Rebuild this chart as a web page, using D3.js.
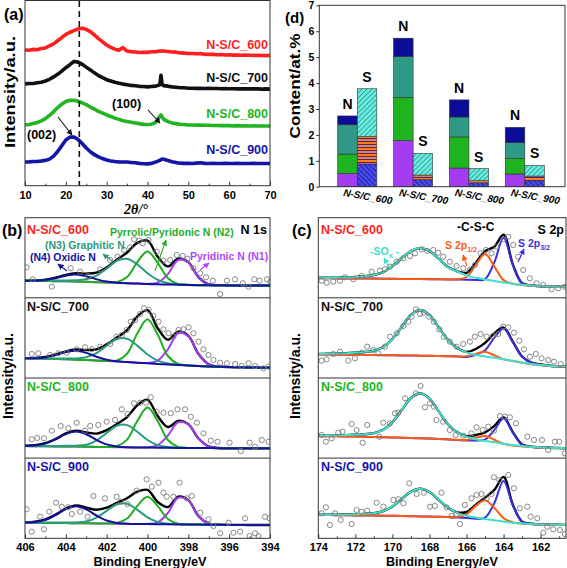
<!DOCTYPE html>
<html><head><meta charset="utf-8">
<script src="https://cdn.jsdelivr.net/npm/d3@7/dist/d3.min.js"></script>
<style>html,body{margin:0;padding:0;background:#fff;}svg{display:block;}</style>
</head><body><svg id="chart" width="567" height="568"></svg>
<script>
// ================= DATA =================
// (a) XRD
const xrdTheta = [10,11,12,13,14,15,16,17,18,19,20,21,22,23,24,25,26,27,28,29,30,31,32,33,34,35,36,37,38,39,40,41,42,43,43.3,43.6,44,45,46,47,48,49,50,51,52,53,54,55,56,57,58,59,60,61,62,63,64,65,66,67,68,69,70];
const xrd600 = [73.5,73.3,73.8,73.6,74.3,74.6,75.7,76.8,78.5,80.2,81.9,83.1,84.0,84.9,85.3,84.6,83.4,81.6,79.6,77.9,76.2,74.9,73.9,73.4,74.8,72.9,72.6,72.4,72.1,72.2,72.2,72.5,72.6,72.9,72.8,73.0,72.9,72.7,72.4,72.3,71.9,71.8,71.6,71.6,71.4,71.5,71.2,71.1,71.1,70.9,71.0,70.8,70.9,70.7,70.8,70.6,70.7,70.6,70.5,70.6,70.5,70.4,70.5];
const xrd700 = [55.1,55.3,55.3,55.7,56.0,56.7,57.6,58.9,60.3,62.0,63.9,65.5,67.3,66.9,65.7,64.2,62.7,61.1,59.6,58.5,57.4,56.7,56.0,55.5,55.0,54.7,54.3,54.1,53.8,53.7,53.5,53.7,53.9,54.6,59.8,54.7,54.2,53.9,53.5,53.3,53.0,53.0,52.8,52.8,52.7,52.8,52.6,52.7,52.6,52.6,52.5,52.6,52.5,52.5,52.4,52.5,52.4,52.5,52.4,52.4,52.3,52.4,52.3];
const xrd800 = [32.9,33.1,33.7,34.2,35.1,36.3,38.1,40.0,42.3,44.1,45.6,46.3,46.2,45.7,44.8,43.9,42.6,41.5,40.2,39.3,38.3,37.5,36.6,35.9,35.2,34.8,34.3,33.9,33.6,33.2,33.1,33.3,34.2,37.6,38.3,37.2,35.9,34.7,34.0,33.6,33.2,33.1,32.9,32.9,32.8,32.8,32.7,32.7,32.6,32.6,32.5,32.6,32.5,32.4,32.5,32.4,32.4,32.3,32.4,32.3,32.3,32.3,32.3];
const xrd900 = [12.8,12.9,13.1,13.1,13.4,13.7,14.4,16.0,18.5,21.6,24.7,26.3,26.4,25.0,22.8,20.4,18.4,16.8,15.6,14.7,13.9,13.4,13.1,12.9,12.8,12.8,12.6,12.4,12.1,11.9,11.8,12.1,12.8,13.7,14.1,14.4,14.3,13.6,13.0,12.5,12.2,12.1,12.1,12.0,12.2,12.4,12.1,12.0,12.1,12.0,12.0,12.1,12.0,12.0,12.1,12.0,12.0,12.0,12.1,12.0,12.0,12.0,12.0];
const xrdRefTheta = 23.3;
const xrdTicks = [10,20,30,40,50,60,70];
const xrdMinor = [15,25,35,45,55,65];
const sampleNames = ["N-S/C_600","N-S/C_700","N-S/C_800","N-S/C_900"];

// (d) contents, at.%
const nN1 = [0.51,1.78,0.72,0.49];
const nN2 = [0.75,1.67,1.20,0.60];
const nN3 = [1.13,1.57,0.77,0.61];
const nN4 = [0.34,0.71,0.66,0.59];
const sP32 = [0.875,0.28,0.15,0.23];
const sP12 = [1.055,0.17,0.08,0.18];
const sSOx = [1.85,0.84,0.47,0.41];
const dTicks = [0,1,2,3,4,5,6,7];

// (b) N 1s, binding energy grid (eV) and fitted components
const bGrid = [406,405.5,405,404.5,404,403.5,403,402.5,402,401.5,401,400.5,400,399.5,399,398.5,398,397.5,397,396.5,396,395.5,395,394.5,394];
const bTicks = [406,404,402,400,398,396,394];
const bMinor = [405,403,401,399,397,395];
const bgN600 = [17,16.9,16.8,16.6,16.5,16.3,16,15.6,15.2,14.9,14.5,14.2,13.8,13.5,13.2,13,12.8,12.6,12.5,12.45,12.4,12.35,12.3,12.3,12.3];
const n4_600 = [0,0.2,1.0,3.0,5.6,7,5.6,3.0,1.0,0.2,0,0,0,0,0,0,0,0,0,0,0,0,0,0,0];
const n3_600 = [0.2,0.3,0.4,0.6,0.8,1.2,2.6,6.6,14,22.1,24.5,19.2,10.7,4.4,1.4,0.6,0.3,0.1,0,0,0,0,0,0,0];
const n2_600 = [0,0,0,0,0,0,0,0,0.1,0.8,6.3,21.5,32.5,21.5,6.3,0.8,0.1,0,0,0,0,0,0,0,0];
const n1_600 = [0,0,0,0,0,0,0,0,0,0,0,0,0.1,1.7,10.5,24.8,22.5,7.8,1.0,0.1,0,0,0,0,0];
const bgN700 = [19.7,19.5,19.3,19,18.7,18.3,17.9,17.4,16.9,16.4,15.9,15.3,14.7,14.1,13.5,13,12.5,12,11.6,11.2,10.9,10.7,10.5,10.4,10.3];
const n4_700 = [0,0.3,1.3,3.9,7.2,9,7.2,3.9,1.3,0.3,0,0,0,0,0,0,0,0,0,0,0,0,0,0,0];
const n3_700 = [0.2,0.3,0.4,0.6,0.8,1.2,2.9,7.4,15.4,22.6,23.4,17.1,8.8,3.3,1.0,0.5,0.3,0.1,0,0,0,0,0,0,0];
const n2_700 = [0,0,0,0,0,0,0,0,0.1,1.1,8.5,29.1,44,29.1,8.5,1.1,0.1,0,0,0,0,0,0,0,0];
const n1_700 = [0,0,0,0,0,0,0,0,0,0,0,0,0.3,3.2,15.2,31.8,29.3,11.9,2.1,0.2,0,0,0,0,0];
const bgN800 = [12,11.9,11.8,11.7,11.6,11.5,11.4,11.2,11,10.9,10.7,10.6,10.5,10.4,10.3,10.2,10.1,10,10,9.9,9.9,9.8,9.8,9.8,9.8];
const n4_800 = [0.1,0.7,2.7,7,12.4,15,12.4,7,2.7,0.7,0.1,0,0,0,0,0,0,0,0,0,0,0,0,0,0];
const n3_800 = [0.2,0.3,0.4,0.5,0.7,0.9,1.9,6.3,14.1,21.5,22.3,15.8,7.6,2.5,0.7,0.3,0.1,0,0,0,0,0,0,0,0];
const n2_800 = [0,0,0,0,0,0,0,0,0.1,1.0,7.8,26.5,40,26.5,7.8,1.0,0.1,0,0,0,0,0,0,0,0];
const n1_800 = [0,0,0,0,0,0,0,0,0,0,0,0,0.2,2.6,12.3,25.7,23.7,9.6,1.7,0.2,0,0,0,0,0];
const bgN900 = [15.6,15.5,15.4,15.3,15.2,15.1,15,14.9,14.7,14.6,14.5,14.3,14.2,14.1,14,13.9,13.8,13.7,13.6,13.5,13.4,13.4,13.3,13.3,13.3];
const n4_900 = [0.1,0.8,3.1,7.9,14,17,14,7.9,3.1,0.8,0.1,0,0,0,0,0,0,0,0,0,0,0,0,0,0];
const n3_900 = [0.2,0.3,0.4,0.5,0.6,0.8,1.7,5.7,12.7,19.4,20.1,14.2,6.8,2.3,0.6,0.3,0.1,0,0,0,0,0,0,0,0];
const n2_900 = [0,0,0,0,0,0,0,0,0.1,0.7,5.3,18.1,27.3,18.1,5.3,0.7,0.1,0,0,0,0,0,0,0,0];
const n1_900 = [0,0,0,0,0,0,0,0,0,0,0,0,0.1,1.8,11.3,26.7,24.2,8.4,1.1,0.1,0,0,0,0,0];
const ptsN600 = [[405.92,30.5],[405.62,18.5],[404.69,11.1],[403.76,29.5],[403.30,26.1],[402.90,21.8],[402.32,28.5],[401.83,37.8],[401.47,41.1],[401.15,47.8],[400.85,50.5],[400.66,58.5],[400.40,57.1],[400.23,54.5],[399.95,57.8],[399.55,46.1],[399.22,37.1],[398.89,37.8],[398.57,42.8],[398.27,41.8],[398.04,39.1],[397.75,29.5],[397.42,24.5],[397.13,20.5],[396.80,17.1],[396.44,3.8],[396.11,17.1],[395.71,18.5],[395.33,14.5],[395.05,11.1],[394.77,18.5],[394.51,17.1],[394.15,18.5],[393.98,16.1]];
const ptsN700 = [[405.67,24],[405.35,24.7],[404.77,23],[404.37,24.7],[403.96,25.3],[403.47,28.7],[403.06,30.7],[402.73,28.7],[402.32,31.3],[401.83,34],[401.51,41.3],[401.26,43],[401.02,48],[400.82,56.3],[400.61,58],[400.36,64],[400.17,69.7],[399.95,68],[399.71,62],[399.46,56.3],[399.22,48.7],[398.97,44.7],[398.73,41.3],[398.48,48],[398.24,48.7],[397.99,50.7],[397.75,44.7],[397.50,36.3],[397.26,28.7],[397.01,23],[396.77,18],[396.44,15.3],[396.11,14.7],[395.71,14],[395.38,12],[395.05,14.7],[394.73,12],[394.32,9.7],[394.07,11.3]];
const ptsN800 = [[405.67,18.8],[405.40,20.1],[405.07,19.8],[404.69,27.4],[404.25,32.1],[403.88,29.8],[403.47,35.4],[403.06,27.4],[402.81,32.1],[402.41,33.1],[402.0,36.4],[401.59,38.1],[401.26,48.8],[400.98,44.1],[400.66,54.8],[400.36,55.4],[400.07,55.4],[399.84,60.8],[399.55,46.4],[399.22,45.4],[398.86,44.8],[398.53,48.8],[398.16,48.8],[397.88,41.4],[397.58,35.4],[397.26,24.8],[396.90,17.4],[396.57,16.4],[395.98,15.4],[395.43,7.1],[395.00,15.4],[394.73,11.4],[394.40,18.1],[394.07,16.4]];
const ptsN900 = [[405.92,29],[405.67,6.6],[405.26,21.6],[405.07,9],[404.81,26.6],[404.48,35.6],[404.20,31.6],[403.88,31],[403.71,24.3],[403.30,26.6],[402.94,21.6],[402.65,42.3],[402.08,40],[401.51,41.6],[401.31,36.6],[400.98,34.3],[400.53,47.6],[400.04,59],[399.79,51.6],[399.46,55.6],[399.22,45.6],[399.06,41.6],[398.73,41.6],[398.43,55.6],[398.07,40],[397.83,42.3],[397.42,25.6],[397.01,19],[396.77,12.3],[396.44,5],[396.03,15.6],[395.79,5.6],[395.46,6.6],[395.22,20],[395.00,2.3],[394.73,5],[394.56,2.3],[394.24,21.6],[394.02,20]];

// (c) S 2p
const cGrid = [174,173.5,173,172.5,172,171.5,171,170.5,170,169.5,169,168.5,168,167.5,167,166.5,166,165.5,165,164.5,164,163.5,163,162.5,162,161.5,161,160.5];
const cTicks = [174,172,170,168,166,164,162];
const cMinor = [173,171,169,167,165,163,161];
const bgS600 = [19.5,19.5,19.4,19.4,19.3,19.3,19.2,19.1,19,18.9,18.8,18.7,18.6,18.5,18.4,18.3,18.1,17.8,17.2,16.3,15,13.8,12.8,12,11.5,11.2,11,10.9];
const sox600 = [0.5,0.6,0.8,1.1,1.6,2.3,3.6,6.6,12.7,20.6,28,31,28,20.6,12.3,8.0,4.2,2.2,1.2,0.6,0.4,0.3,0.2,0.2,0.1,0.1,0.1,0.1];
const p12_600 = [0,0,0,0,0,0,0,0,0,0,0,0,0,0,0,0.2,2.7,15.1,26.7,15.1,2.7,0.2,0,0,0,0,0,0];
const p32_600 = [0,0,0,0,0,0,0,0,0,0,0,0,0,0,0,0,0,0,1.5,19.1,45,19.1,1.5,0.1,0,0,0,0];
const bgS700 = [23.5,23.4,23.3,23.2,23.1,23,22.9,22.8,22.7,22.6,22.5,22.3,22.2,22,21.8,21.5,21.1,20.7,20.2,19.3,18.2,16.8,15.2,13.8,12.8,12,11.6,11.3];
const sox700 = [0.6,0.8,1.1,1.5,2.2,3.0,4.5,8.2,16.3,28.5,40.6,45.7,40.6,28.5,16.3,8.5,4.4,2.4,1.4,0.9,0.6,0.4,0.3,0.2,0.2,0.2,0.2,0.2];
const p12_700 = [0,0,0,0,0,0,0,0,0,0,0,0,0,0,0,0.1,0.6,3.4,6,3.4,0.6,0.1,0,0,0,0,0,0];
const p32_700 = [0,0,0,0,0,0,0,0,0,0,0,0,0,0,0,0,0,2.5,7.5,21,31,19,6,1.5,0.5,0,0,0];
const bgS800 = [22,21.9,21.8,21.7,21.5,21.3,21.1,20.9,20.7,20.4,20.1,19.8,19.5,19.1,18.7,18.2,17.6,16.9,16,15,13.8,12.6,11.7,11,10.5,10.2,10,9.8];
const sox800 = [0.5,0.6,0.9,1.3,1.9,2.6,3.9,7.4,15.2,27.6,40,45,40,27.6,15.2,7.6,3.8,2.0,1.2,0.8,0.5,0.4,0.3,0.2,0.2,0.1,0.1,0.1];
const p12_800 = [0,0,0,0,0,0,0,0,0,0,0,0,0,0,0,0.1,0.6,3.4,6,3.4,0.6,0.1,0,0,0,0,0,0];
const p32_800 = [0,0,0,0,0,0,0,0,0,0,0,0,0,0,0,0,0,0.8,2.5,12.9,25.7,12.9,1.6,0.1,0,0,0,0];
const bgS900 = [23.3,23.2,23.1,23,22.9,22.8,22.7,22.6,22.5,22.3,22.1,21.9,21.7,21.5,21.2,20.8,20.3,19.6,18.7,17.6,16.4,15.4,14.6,14.1,13.8,13.6,13.4,13.3];
const sox900 = [0.3,0.4,0.6,0.8,1.2,1.6,2.4,4.6,9.4,17,24.6,27.7,24.6,17,9.4,4.7,2.3,1.2,0.7,0.5,0.3,0.2,0.1,0.1,0.1,0.1,0.1,0.1];
const p12_900 = [0,0,0,0,0,0,0,0,0,0,0,0,0,0,0,0.5,3.7,12.8,19.3,12.8,3.7,0.5,0,0,0,0,0,0];
const p32_900 = [0,0,0,0,0,0,0,0,0,0,0,0,0,0,0,0,0,0,2,17.5,41,17.5,2,0.3,0,0,0,0];
const ptsS600 = [[173.82,17.1],[173.55,15.1],[173.19,16.1],[172.83,17.1],[172.56,20.5],[172.11,18.5],[171.66,21.8],[171.12,26.1],[170.67,27.1],[170.40,28.5],[170.13,31.1],[169.77,36.1],[169.41,39.5],[169.05,41.8],[168.78,44.5],[168.42,48.5],[168.12,46.8],[167.79,47.8],[167.53,45.1],[167.26,41.1],[166.90,36.1],[166.54,31.8],[166.18,29.5],[165.82,27.8],[165.55,32.8],[165.24,44.5],[164.95,47.8],[164.65,44.5],[164.38,51.1],[164.02,58.5],[163.75,61.1],[163.48,52.8],[163.21,41.1],[162.94,27.8],[162.58,19.5],[162.22,14.5],[161.86,12.8],[161.41,8.5],[161.05,9.5],[160.69,11.1]];
const ptsS700 = [[173.82,17.3],[173.55,18.7],[173.19,24],[172.83,26.3],[172.38,17.3],[172.02,19.7],[171.66,25.3],[171.36,31.3],[171.03,28],[170.76,24.7],[170.40,31.3],[170.13,41.3],[169.77,44.7],[169.41,52],[169.14,56.3],[168.96,61.3],[168.73,68.7],[168.51,64],[168.30,65.3],[168.01,61.3],[167.76,56.3],[167.47,48.7],[167.22,41.3],[166.90,36.3],[166.54,31.3],[166.18,34],[165.82,36.3],[165.55,41.3],[165.24,44],[164.92,41.3],[164.59,42],[164.29,44],[164.02,51.3],[163.75,50.7],[163.44,45.3],[163.15,37.3],[162.90,28.7],[162.58,21.3],[162.26,24],[161.95,19.7],[161.59,18],[161.28,16.3],[160.92,14]];
const ptsS800 = [[173.82,23.1],[173.59,16.4],[173.28,19.8],[172.92,25.4],[172.69,26.4],[172.20,34.1],[171.93,28.1],[171.61,15.4],[171.36,33.1],[170.71,21.4],[170.49,35.4],[170.13,34.8],[169.86,44.8],[169.68,45.4],[169.32,59.8],[168.73,64.8],[168.48,72.1],[168.24,50.8],[167.97,54.8],[167.76,51.4],[167.62,38.1],[167.26,36.4],[166.90,28.1],[166.59,23.1],[166.18,22.4],[165.73,24.8],[165.46,30.8],[165.13,28.1],[164.83,31.4],[164.52,27.4],[164.20,42.1],[163.93,41.4],[163.66,40.8],[163.33,34.8],[162.72,21.4],[162.36,18.1],[161.93,18.1],[161.59,8.1],[161.23,16.4],[161.00,16.4],[160.69,4.8]];
const ptsS900 = [[173.82,25],[173.59,31],[173.37,13.3],[173.10,25],[172.79,18.3],[172.20,14.3],[171.93,28.3],[171.66,26.6],[171.36,27.6],[170.85,35.6],[170.49,31.6],[169.95,38.3],[169.68,39],[169.41,35],[169.09,55],[168.69,44.3],[168.30,45.6],[167.97,31.6],[167.71,32.3],[167.35,45.6],[167.08,31],[166.81,22.3],[166.54,24.3],[166.36,14.3],[166.09,33.3],[165.73,40],[165.46,43.3],[165.19,44.3],[164.92,40],[164.65,44.3],[164.52,61],[164.23,58.3],[163.75,63.3],[163.44,50],[163.12,30],[162.72,31.6],[162.54,21.6],[162.18,20],[161.86,5.6],[161.64,11.6],[161.32,9],[160.96,8.3],[160.69,4.3]];

// ================= DRAW =================
const svg = d3.select("#chart");
const FONT = '"Liberation Sans", Arial, Helvetica, sans-serif';
const defs = svg.append("defs");
const AX = "#333";

function addText(x, y, s, o = {}) {
  const t = svg.append("text").attr("x", x).attr("y", y)
    .attr("font-family", o.family || FONT).attr("font-size", o.size || 12)
    .attr("font-weight", o.weight || "bold").attr("font-style", o.style || "normal")
    .attr("fill", o.color || "#000").attr("text-anchor", o.anchor || "start");
  if (o.len) t.attr("textLength", o.len).attr("lengthAdjust", "spacingAndGlyphs");
  if (o.rot) t.attr("transform", `rotate(${o.rot},${x},${y})`);
  if (s !== null) t.text(s);
  return t;
}
let mk = 0;
function arrow(x1, y1, x2, y2, color, w = 1.1) {
  const id = "arr" + (mk++);
  defs.append("marker").attr("id", id).attr("viewBox", "0 0 10 10").attr("refX", 9).attr("refY", 5)
    .attr("markerWidth", 5.5).attr("markerHeight", 5.5).attr("orient", "auto")
    .append("path").attr("d", "M0,0L10,5L0,10z").attr("fill", color);
  svg.append("line").attr("x1", x1).attr("y1", y1).attr("x2", x2).attr("y2", y2)
    .attr("stroke", color).attr("stroke-width", w).attr("marker-end", `url(#${id})`);
}
function bottomAxis(scale, y, majors, minors, labelOffset, size) {
  const g = svg.append("g").attr("transform", `translate(0,${y})`);
  g.call(d3.axisBottom(scale).tickValues(majors).tickSize(-4).tickFormat(d3.format("d")));
  g.select(".domain").remove();
  g.selectAll(".tick line").attr("stroke", AX);
  g.selectAll(".tick text").attr("font-family", FONT).attr("font-weight", "bold")
    .attr("font-size", size).attr("fill", "#000").attr("y", labelOffset).attr("dy", 0);
  const g2 = svg.append("g").attr("transform", `translate(0,${y})`);
  g2.call(d3.axisBottom(scale).tickValues(minors).tickSize(-2).tickFormat(""));
  g2.select(".domain").remove();
  g2.selectAll(".tick line").attr("stroke", AX);
}

// ---------- (a) XRD ----------
const xa = d3.scaleLinear().domain([10, 70]).range([25, 270]);
const ya = d3.scaleLinear().domain([0, 100]).range([185.7, 1]);
defs.append("clipPath").attr("id", "clipA").append("rect").attr("x", 25).attr("y", 0).attr("width", 245).attr("height", 185.7);
const xrdSeries = [[xrd600, "#ff1f1f"], [xrd700, "#111111"], [xrd800, "#22b422"], [xrd900, "#1414a8"]];
const lineA = d3.line().x((d, i) => xa(xrdTheta[i])).y(d => ya(d));
const gA = svg.append("g").attr("clip-path", "url(#clipA)");
xrdSeries.forEach(([vals, col]) => {
  gA.append("path").datum(vals).attr("d", lineA).attr("fill", "none").attr("stroke", col)
    .attr("stroke-width", 3.6).attr("stroke-linejoin", "round");
});
svg.append("line").attr("x1", xa(xrdRefTheta)).attr("x2", xa(xrdRefTheta)).attr("y1", 1).attr("y2", 185.7)
  .attr("stroke", "#111").attr("stroke-width", 1.6).attr("stroke-dasharray", "6,4");
svg.append("rect").attr("x", 25).attr("y", 0.5).attr("width", 245).attr("height", 185.2)
  .attr("fill", "none").attr("stroke", AX).attr("stroke-width", 1);
bottomAxis(xa, 185.7, xrdTicks, xrdMinor, 13, 11);
addText(4, 20, "(a)", { size: 16 });
addText(15, 92, "Intensity/a.u.", { size: 15, anchor: "middle", rot: -90, len: 112 });
addText(136, 214, null, { size: 14, anchor: "middle", family: '"Liberation Serif", "Times New Roman", serif', style: "italic" })
  .text("2θ/°");
[["N-S/C_600", "#ff1f1f", 48.5], ["N-S/C_700", "#111111", 81.5], ["N-S/C_800", "#22b422", 117.5], ["N-S/C_900", "#1414a8", 153.5]]
  .forEach(([s, c, y]) => addText(268, y, s, { size: 12.5, color: c, anchor: "end" }));
addText(112, 108, "(100)", { size: 12.5 });
arrow(148, 110, 160, 123, "#111");
addText(27, 139, "(002)", { size: 12.5 });
arrow(58, 117, 72, 135, "#111");

// ---------- XPS panels ----------
const subTops = [217.7, 297.8, 378, 458.1];
const subBots = [297.8, 378, 458.1, 538.3];
function drawXps(xs, grid, x0, x1, sets, clipName) {
  sets.forEach((st, k) => {
    const ys = d3.scaleLinear().domain([0, subBots[k] - subTops[k]]).range([subBots[k], subTops[k]]);
    const cid = clipName + k;
    defs.append("clipPath").attr("id", cid).append("rect").attr("x", x0).attr("y", subTops[k]).attr("width", x1 - x0).attr("height", subBots[k] - subTops[k]);
    const g = svg.append("g").attr("clip-path", `url(#${cid})`);
    const ln = d3.line().x((d, i) => xs(grid[i])).y(d => ys(d)).curve(d3.curveCatmullRom.alpha(0.5));
    const env = grid.map((_, i) => st.bg[i] + d3.sum(st.comps, c => c.v[i]));
    g.append("path").datum(env).attr("d", ln).attr("fill", "none").attr("stroke", "#000").attr("stroke-width", 2.4);
    st.comps.forEach(c => {
      g.append("path").datum(grid.map((_, i) => st.bg[i] + c.v[i])).attr("d", ln)
        .attr("fill", "none").attr("stroke", c.col).attr("stroke-width", 2);
    });
    g.selectAll(null).data(st.pts).join("circle")
      .attr("cx", d => xs(d[0])).attr("cy", d => ys(d[1])).attr("r", 2.6)
      .attr("fill", "none").attr("stroke", "#7a7a7a").attr("stroke-width", 0.9);
  });
  svg.append("rect").attr("x", x0).attr("y", subTops[0]).attr("width", x1 - x0).attr("height", subBots[3] - subTops[0])
    .attr("fill", "none").attr("stroke", AX).attr("stroke-width", 1);
  for (let k = 1; k < 4; k++) svg.append("line").attr("x1", x0).attr("x2", x1).attr("y1", subTops[k]).attr("y2", subTops[k]).attr("stroke", AX);
}

// (b)
const cN1 = "#a43cf2", cN2 = "#1fae1f", cN3 = "#2a9a80", cN4 = "#12129c";
const xb = d3.scaleLinear().domain([406, 394]).range([25, 270]);
drawXps(xb, bGrid, 25, 270, [
  { bg: bgN600, comps: [{ v: n1_600, col: cN1 }, { v: n2_600, col: cN2 }, { v: n3_600, col: cN3 }, { v: n4_600, col: cN4 }], pts: ptsN600 },
  { bg: bgN700, comps: [{ v: n1_700, col: cN1 }, { v: n2_700, col: cN2 }, { v: n3_700, col: cN3 }, { v: n4_700, col: cN4 }], pts: ptsN700 },
  { bg: bgN800, comps: [{ v: n1_800, col: cN1 }, { v: n2_800, col: cN2 }, { v: n3_800, col: cN3 }, { v: n4_800, col: cN4 }], pts: ptsN800 },
  { bg: bgN900, comps: [{ v: n1_900, col: cN1 }, { v: n2_900, col: cN2 }, { v: n3_900, col: cN3 }, { v: n4_900, col: cN4 }], pts: ptsN900 }
], "clipB");
bottomAxis(xb, 538.3, bTicks, bMinor, 12.5, 11);
addText(150, 565.5, "Binding Energy/eV", { size: 13.5, anchor: "middle", len: 113 });
addText(13, 376, "Intensity/a.u.", { size: 14, anchor: "middle", rot: -90, len: 86 });
addText(2, 236, "(b)", { size: 16 });
const subLabelCols = ["#ff1f1f", "#111111", "#22b422", "#1414a8"];
const subLabelY = [234, 311, 391, 471];
sampleNames.forEach((s, i) => { addText(27, subLabelY[i], s, { size: 12.5, color: subLabelCols[i] }); addText(321, subLabelY[i], s, { size: 12.5, color: subLabelCols[i] }); });
addText(267, 234, "N 1s", { size: 12.5, anchor: "end" });
addText(110, 235.5, "Pyrrolic/Pyridonic N (N2)", { size: 10.5, color: cN2 });
addText(45, 249, "(N3) Graphitic N", { size: 10.5, color: cN3 });
addText(30, 260.5, "(N4) Oxidic N", { size: 10.5, color: cN4 });
addText(190, 260, "Pyridinic N (N1)", { size: 10.5, color: "#b048ff" });
arrow(67, 271, 58, 264, cN4);
arrow(112, 261, 103, 254, cN3);
arrow(155, 271, 166, 240, cN2);
arrow(200, 270, 209, 263, "#b048ff");

// (c)
const cSOx = "#3fe0c8", cP12 = "#ff5a14", cP32 = "#3a30e0";
const xc = d3.scaleLinear().domain([174, 160.63]).range([318.3, 566]);
drawXps(xc, cGrid, 318.3, 566, [
  { bg: bgS600, comps: [{ v: p32_600, col: cP32 }, { v: p12_600, col: cP12 }, { v: sox600, col: cSOx }], pts: ptsS600 },
  { bg: bgS700, comps: [{ v: p32_700, col: cP32 }, { v: p12_700, col: cP12 }, { v: sox700, col: cSOx }], pts: ptsS700 },
  { bg: bgS800, comps: [{ v: p32_800, col: cP32 }, { v: p12_800, col: cP12 }, { v: sox800, col: cSOx }], pts: ptsS800 },
  { bg: bgS900, comps: [{ v: p32_900, col: cP32 }, { v: p12_900, col: cP12 }, { v: sox900, col: cSOx }], pts: ptsS900 }
], "clipC");
bottomAxis(xc, 538.3, cTicks, cMinor, 12.5, 11);
addText(442, 565.5, "Binding Energy/eV", { size: 13.5, anchor: "middle", len: 112 });
addText(300, 376, "Intensity/a.u.", { size: 14, anchor: "middle", rot: -90, len: 86 });
addText(292, 236, "(c)", { size: 16 });
addText(457, 231, "-C-S-C", { size: 12 });
addText(564, 234, "S 2p", { size: 12.5, anchor: "end" });
const tSO = addText(370, 255, null, { size: 10.5, color: cSOx });
tSO.append("tspan").text("-SO");
tSO.append("tspan").attr("font-size", 7.5).attr("dy", 3).text("x");
tSO.append("tspan").attr("dy", -3).text(" -");
const t12 = addText(445, 249, null, { size: 10.5, color: cP12 });
t12.append("tspan").text("S 2p");
t12.append("tspan").attr("font-size", 7).attr("dy", 3).text("1/2");
const t32 = addText(518, 247, null, { size: 10.5, color: cP32 });
t32.append("tspan").text("S 2p");
t32.append("tspan").attr("font-size", 7).attr("dy", 3).text("3/2");
arrow(389, 267, 384, 258, cSOx);
arrow(467, 266, 463, 255, cP12);
arrow(518, 262, 524, 249, cP32);

// ---------- (d) content bars ----------
const xd = d3.scaleLinear().domain([0.32, 4.72]).range([319.3, 565]);
const yd = d3.scaleLinear().domain([0, 7]).range([186.7, 5.3]);
const bw = xd(1.35) - xd(1);
function pat(id, bgc, lineCol, rot, gap, lw) {
  const p = defs.append("pattern").attr("id", id).attr("patternUnits", "userSpaceOnUse")
    .attr("width", gap).attr("height", gap).attr("patternTransform", `rotate(${rot})`);
  p.append("rect").attr("width", gap).attr("height", gap).attr("fill", bgc);
  p.append("rect").attr("width", gap).attr("height", lw).attr("fill", lineCol);
}
pat("patNavy", "#2f2fc0", "#5a5aff", 45, 3.5, 1.2);
pat("patOrange", "#ff7b2a", "#3a2a90", 0, 3, 1);
pat("patCyan", "#70ece0", "#2aa69a", -45, 3.5, 1);
const nKeys = ["n1", "n2", "n3", "n4"], sKeys = ["p32", "p12", "sox"];
const nRows = sampleNames.map((s, i) => ({ i, n1: nN1[i], n2: nN2[i], n3: nN3[i], n4: nN4[i] }));
const sRows = sampleNames.map((s, i) => ({ i, p32: sP32[i], p12: sP12[i], sox: sSOx[i] }));
const nFill = { n1: "#a43cf2", n2: "#1fb41f", n3: "#2e9a86", n4: "#0c0c99" };
const sFill = { p32: "url(#patNavy)", p12: "url(#patOrange)", sox: "url(#patCyan)" };
const gD = svg.append("g");
d3.stack().keys(nKeys)(nRows).forEach(layer => {
  gD.selectAll(null).data(layer).join("rect")
    .attr("x", d => xd(d.data.i + 1) - bw).attr("width", bw)
    .attr("y", d => yd(d[1])).attr("height", d => yd(d[0]) - yd(d[1]))
    .attr("fill", nFill[layer.key]).attr("stroke", "#333").attr("stroke-width", 0.6);
});
d3.stack().keys(sKeys)(sRows).forEach(layer => {
  gD.selectAll(null).data(layer).join("rect")
    .attr("x", d => xd(d.data.i + 1)).attr("width", bw)
    .attr("y", d => yd(d[1])).attr("height", d => yd(d[0]) - yd(d[1]))
    .attr("fill", sFill[layer.key]).attr("stroke", "#333").attr("stroke-width", 0.6);
});
sampleNames.forEach((s, i) => {
  const nTot = nN1[i] + nN2[i] + nN3[i] + nN4[i];
  const sTot = sP32[i] + sP12[i] + sSOx[i];
  addText(xd(i + 1) - bw / 2, yd(nTot) - 7, "N", { size: 14, anchor: "middle" });
  addText(xd(i + 1) + bw / 2, yd(sTot) - 7, "S", { size: 14, anchor: "middle" });
  addText(xd(i + 1) + 10, 200, s, { size: 10, anchor: "middle", style: "italic", weight: "bold", rot: 10 });
});
svg.append("rect").attr("x", 319.3).attr("y", 5.3).attr("width", 565 - 319.3).attr("height", 186.7 - 5.3)
  .attr("fill", "none").attr("stroke", AX).attr("stroke-width", 1);
const gY = svg.append("g").attr("transform", "translate(319.3,0)");
gY.call(d3.axisLeft(yd).tickValues(dTicks).tickSize(3).tickPadding(2).tickFormat(d3.format("d")));
gY.select(".domain").remove();
gY.selectAll(".tick line").attr("stroke", AX);
gY.selectAll(".tick text").attr("font-family", FONT).attr("font-weight", "bold").attr("font-size", 10.5).attr("fill", "#000");
addText(300, 86, "Content/at.%", { size: 14, anchor: "middle", rot: -90, len: 105 });
addText(285, 22.5, "(d)", { size: 15 });
</script></body></html>
